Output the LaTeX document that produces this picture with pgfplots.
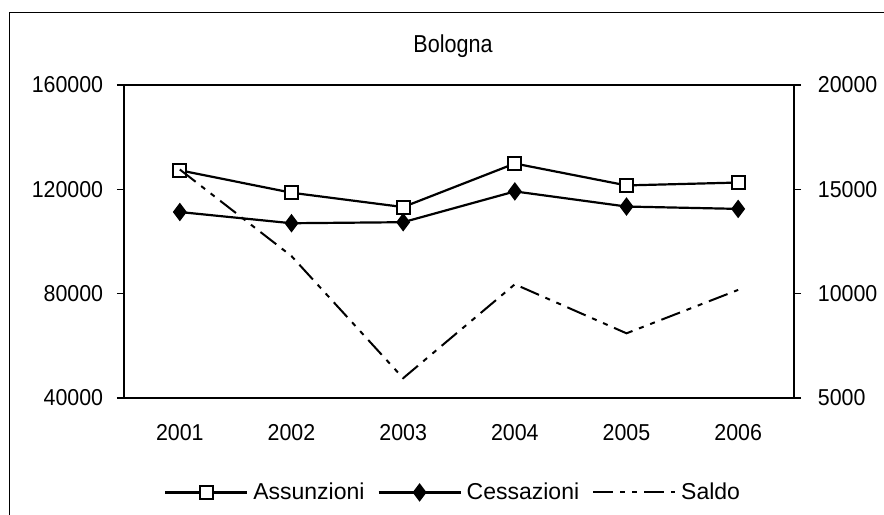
\documentclass[border=0pt]{standalone}
\usepackage{fontspec}
\setmainfont{Liberation Sans}
\newfontfamily\titlefont{Liberation Sans}[FakeStretch=0.88]
\newfontfamily\tickfont{Liberation Sans}[FakeStretch=0.93]
\usepackage{pgfplots}
\pgfplotsset{compat=1.18}
\begin{document}
\fontsize{23bp}{27bp}\selectfont
\begin{tikzpicture}
\pgfplotsset{
  common/.style={
    scale only axis, width=670bp, height=313bp,
    at={(0,0)}, anchor=south west,
    xmin=0.5, xmax=6.5,
    tick align=outside,
    major tick length=7bp,
    scaled y ticks=false,
    ticklabel style={font=\tickfont\fontsize{23bp}{27bp}\selectfont},
    axis line style={line width=1.1bp},
    every tick/.style={line width=1.1bp, black},
  },
  assstyle/.style={black, line width=2.2bp, mark=square*, mark size=6.5bp,
    mark options={fill=white, line width=2bp, solid}},
  cesstyle/.style={black, line width=2.2bp, mark=diamond*, mark size=7.5bp,
    mark options={fill=black, solid}},
}
\begin{axis}[common,
  ymin=40000, ymax=160000,
  ytick={40000,80000,120000,160000},
  yticklabels={40000,80000,120000,160000},
  xtick={1,2,3,4,5,6},
  xticklabels={2001,2002,2003,2004,2005,2006},
  x tick style={draw=none},
  minor xtick={1.5,2.5,3.5,4.5,5.5},
  minor tick length=7bp,
  minor x tick style={yshift=7bp, line width=1.1bp, black},
  xticklabel style={yshift=-12bp},
  yticklabel style={xshift=-6bp},
  axis y line*=left,
  axis x line*=bottom,
  clip=false,
]
\addplot[assstyle]
  coordinates {(1,127300) (2,118700) (3,113200) (4,129900) (5,121500) (6,122600)};
\addplot[cesstyle]
  coordinates {(1,111300) (2,107000) (3,107400) (4,119200) (5,113400) (6,112500)};
\end{axis}
\begin{axis}[common,
  ymin=5000, ymax=20000,
  ytick={5000,10000,15000,20000},
  yticklabels={5000,10000,15000,20000},
  axis y line*=right,
  axis x line*=top,
  xtick=\empty,
  yticklabel style={xshift=9bp},
  legend columns=3,
  legend style={draw=none, fill=none, at={(0.4896,-0.3016)}, anchor=center,
    font=\fontsize{23bp}{27bp}\selectfont, inner sep=0pt,
    /tikz/every odd column/.append style={column sep=5bp},
    /tikz/every even column/.append style={column sep=13bp},
    nodes={inner xsep=0pt, inner ysep=0pt}},
  legend image code/.code={\draw[mark repeat=2,mark phase=2,#1] plot coordinates {(0bp,0bp) (41bp,0bp) (82bp,0bp)};},
]
\addlegendimage{assstyle}
\addlegendentry{Assunzioni}
\addlegendimage{cesstyle}
\addlegendentry{Cessazioni}
\addplot[black, line width=2bp, dash pattern=on 20bp off 7bp on 5bp off 7bp on 5bp off 7bp]
  coordinates {(1,15950) (2,11800) (3,5950) (4,10450) (5,8100) (6,10180)};
\addlegendentry{Saldo}
\end{axis}
\node[anchor=base, font=\titlefont\fontsize{24.5bp}{28bp}\selectfont] at (329bp,345bp) {Bologna};
\draw[line width=1.5bp] (-114.5bp,-140bp) rectangle (800bp,385.5bp);
\pgfresetboundingbox
\path[use as bounding box] (-124bp,-117bp) rectangle (760bp,398bp);
\end{tikzpicture}
\end{document}
